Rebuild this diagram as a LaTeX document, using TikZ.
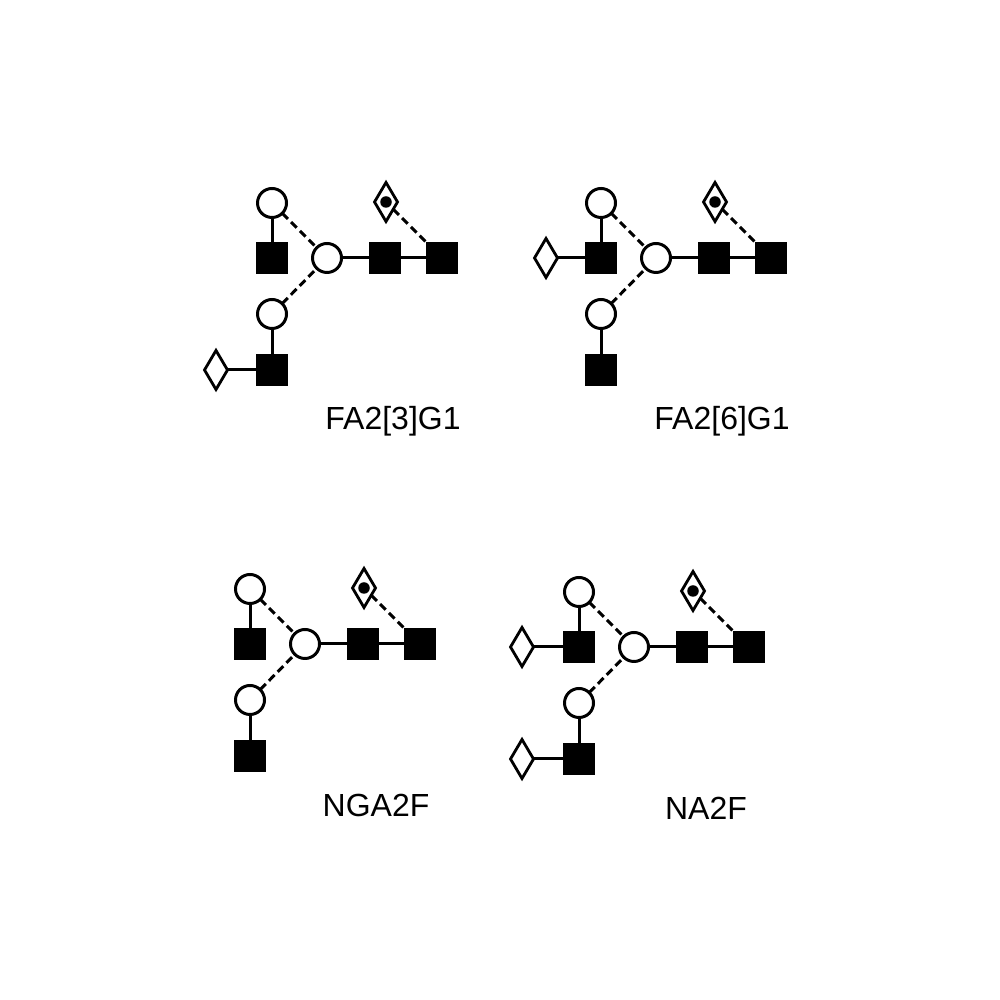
\documentclass[tikz,border=0pt]{standalone}
\usepackage{fontspec}
\setmainfont{Liberation Sans}
\usetikzlibrary{positioning,shapes.geometric}

\begin{document}
\begin{tikzpicture}[on grid,outer sep=0pt,
  man/.style={draw,circle,fill=white,line width=0.85pt,inner sep=0pt,minimum size=2.9mm},
  nag/.style={draw,rectangle,fill=black,line width=0.3pt,inner sep=0pt,minimum size=3.05mm},
  gal/.style={draw,diamond,fill=white,line width=0.8pt,inner sep=0pt,minimum width=2.3mm,minimum height=3.9mm},
  fucdot/.style={circle,fill=black,inner sep=0pt,minimum size=1.15mm},
  bond/.style={line width=0.85pt},
  arm/.style={line width=0.85pt,dash pattern=on 0.8mm off 0.45mm},
  glyname/.style={font=\fontsize{9.1pt}{11pt}\selectfont}]
\useasboundingbox (0,0) rectangle (10,10);
% same skeleton four times
\foreach \g/\x/\y/\lx/\ly/\lab in {a/3.27/7.42/3.93/5.79/FA2[3]G1,
    b/6.56/7.42/7.22/5.79/FA2[6]G1,
    c/3.05/3.56/3.76/1.95/NGA2F,
    d/6.34/3.53/7.06/1.92/NA2F} {
  \node[man] (\g core) at (\x,\y) {};
  \node[nag,right=5.8mm of \g core] (\g s1) {};
  \node[nag,right=5.7mm of \g s1] (\g s2) {};
  \node[nag,left=5.5mm of \g core] (\g s3) {};
  \node[man,above=5.5mm of \g s3] (\g m1) {};
  \node[man,below=5.6mm of \g s3] (\g m2) {};
  \node[nag,below=11.2mm of \g s3] (\g s4) {};
  \node[gal,above right=5.6mm and 0.1mm of \g s1] (\g fuc) {};
  \node[fucdot] (\g fd) at (\g fuc) {};
  \draw[bond] (\g core) -- (\g s1);
  \draw[bond] (\g s1) -- (\g s2);
  \draw[bond] (\g m1) -- (\g s3);
  \draw[bond] (\g m2) -- (\g s4);
  \draw[arm] (\g m1) -- (\g core);
  \draw[arm] (\g m2) -- (\g core);
  \draw[arm] (\g fuc) -- (\g s2);
  \node[glyname] (\g lab) at (\lx,\ly) {\lab};
}
% galactose on the arms
\node[gal,left=5.6mm of as4] (ag1) {};
\draw[bond] (ag1) -- (as4);
\node[gal,left=5.5mm of bs3] (bg1) {};
\draw[bond] (bg1) -- (bs3);
\node[gal,left=5.7mm of ds3] (dg1) {};
\draw[bond] (dg1) -- (ds3);
\node[gal,left=5.7mm of ds4] (dg2) {};
\draw[bond] (dg2) -- (ds4);
\end{tikzpicture}
\end{document}
